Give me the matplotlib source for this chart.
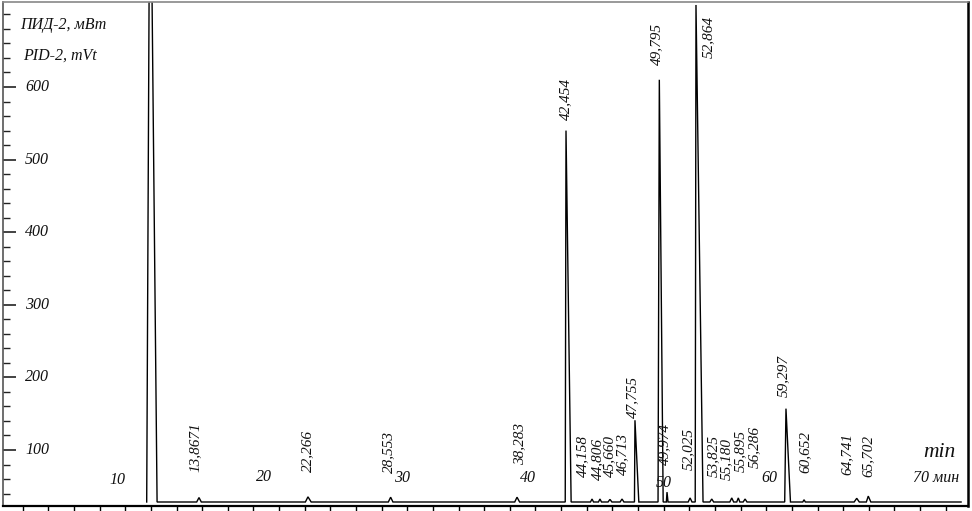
import matplotlib
matplotlib.use("Agg")
import matplotlib.pyplot as plt
from matplotlib.ticker import MultipleLocator

# ---------------- data ----------------
baseline = 28.4
# apex times (min) as positioned on the picture's time axis
peak_times = [9.93, 13.75, 22.25, 28.70, 38.56, 42.38, 44.41, 45.03, 45.81,
              46.75, 47.76, 49.66, 50.26, 52.06, 52.52, 53.75, 55.31, 55.82,
              56.35, 59.54, 60.95, 65.06, 65.96]
# apex heights (mV)
peak_heights = [1000, 34.5, 35.5, 35.0, 35.0, 540, 32.5, 32.5, 32.0,
                32.5, 141, 610, 42, 34, 713, 32.5, 34, 34,
                32.5, 157, 31.5, 33.5, 36.5]
# half widths at base, left / right (min)
peak_wl = [0.26, 0.18, 0.2, 0.18, 0.18, 0.06, 0.12, 0.12, 0.15,
           0.15, 0.04, 0.1, 0.05, 0.15, 0.06, 0.15, 0.15, 0.12,
           0.15, 0.1, 0.1, 0.2, 0.15]
peak_wr = [0.55, 0.18, 0.25, 0.18, 0.2, 0.4, 0.12, 0.12, 0.15,
           0.15, 0.3, 0.3, 0.08, 0.15, 0.55, 0.15, 0.15, 0.12,
           0.15, 0.35, 0.1, 0.2, 0.2]
trace_end = 73.2

# peak labels and where they are written (min, mV at bottom of text)
peak_labels = ["13,8671", "22,266", "28,553", "38,283", "42,454", "44,158",
               "44,806", "45,660", "46,713", "47,755", "49,795", "49,974",
               "52,025", "52,864", "53,825", "55,180", "55,895", "56,286",
               "59,297", "60,652", "64,741", "65,702"]
label_x = [13.44, 22.25, 28.57, 38.79, 42.38, 43.67, 44.84, 45.81, 46.83,
           47.61, 49.48, 50.10, 51.90, 53.46, 53.85, 54.86, 55.96, 57.05,
           59.35, 61.03, 64.34, 65.94]
label_y = [69.7, 69.7, 68.3, 79.3, 554.5, 62.8, 58.7, 62.8, 65.6,
           144.1, 630.3, 79.5, 72.5, 640.0, 62.8, 58.7, 69.7, 75.2,
           173.0, 68.3, 65.6, 62.8]

# time-axis labels written inside the plot
xlab_text = ["10", "20", "30", "40", "50", "60"]
xlab_pos = [7.39, 18.82, 29.55, 39.42, 50.0, 58.22]
xlab_y = [58.7, 62.8, 61.4, 61.4, 54.5, 61.4]

y_major = [100, 200, 300, 400, 500, 600]

# ---------------- build trace ----------------
tx, ty = [], []
for t, h, wl, wr in zip(peak_times, peak_heights, peak_wl, peak_wr):
    tx += [t - wl, t, t + wr]
    ty += [baseline, h, baseline]
tx.append(trace_end)
ty.append(baseline)

# ---------------- figure ----------------
W, H = 972, 511
fig = plt.figure(figsize=(W / 100, H / 100), dpi=100)
ax = fig.add_axes([3 / W, (H - 505.7) / H, 965 / W, 503.7 / H])
ax.set_xlim(-1.54, 73.74)
ax.set_ylim(23.3, 717.1)

ax.plot(tx, ty, color="black", lw=1.0, solid_joinstyle="miter")

font = dict(family="Liberation Serif", style="italic", color="#111111")

# spines
ax.spines["bottom"].set_color("black")
ax.spines["bottom"].set_linewidth(1.6)
ax.spines["left"].set_color("#555555")
ax.spines["left"].set_linewidth(1.2)
ax.spines["top"].set_color("#888888")
ax.spines["top"].set_linewidth(1.2)
ax.spines["right"].set_color("black")
ax.spines["right"].set_linewidth(1.8)

# x ticks (every 2 min, outward, no labels)
ax.xaxis.set_major_locator(MultipleLocator(2))
ax.tick_params(axis="x", direction="out", length=4, width=1.0,
               labelbottom=False, color="black")
# y ticks (inward, labels drawn inside)
ax.set_yticks(y_major)
ax.yaxis.set_minor_locator(MultipleLocator(20))
ax.tick_params(axis="y", which="major", direction="in", length=9.5,
               width=1.2, labelleft=False, color="#222222")
ax.tick_params(axis="y", which="minor", direction="in", length=5,
               width=1.0, color="#222222")

for v in y_major:
    ax.text(0.18, v, str(v), ha="left", va="center", fontsize=11.5, **font)

ax.text(-0.2, 685.4, "ПИД-2, мВт", ha="left", va="center", fontsize=11.5, **font)
ax.text(0.0, 642.7, "PID-2, mVt", ha="left", va="center", fontsize=11.5, **font)

for s, x, y in zip(xlab_text, xlab_pos, xlab_y):
    ax.text(x, y, s, ha="center", va="center", fontsize=11.5, **font)
ax.text(69.45, 61.4, "70 мин", ha="left", va="center", fontsize=11.5, **font)
ax.text(71.48, 97.2, "min", ha="center", va="center", fontsize=15.5, **font)

for s, x, y in zip(peak_labels, label_x, label_y):
    ax.text(x, y, s, rotation=90, ha="center", va="bottom",
            fontsize=11, **font)

fig.savefig("out.png", dpi=100)
